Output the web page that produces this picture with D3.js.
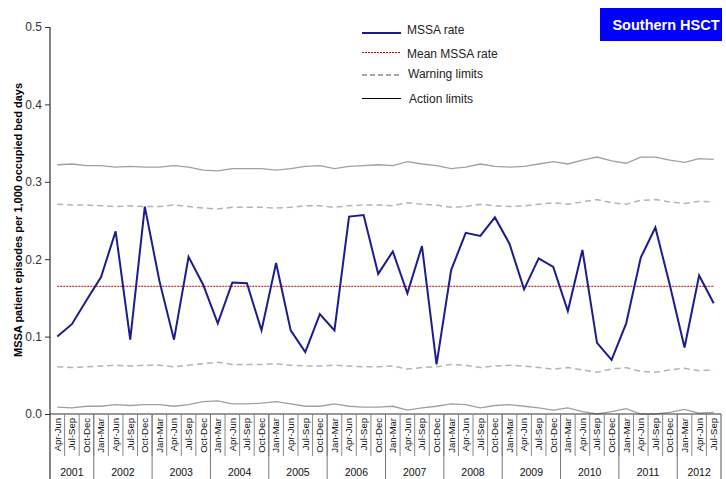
<!DOCTYPE html>
<html><head><meta charset="utf-8">
<script src="https://cdn.jsdelivr.net/npm/d3@7"></script>
<style>body{margin:0;background:#fff}svg{display:block;font-family:Arial,"Liberation Sans",sans-serif}</style>
</head><body><svg id="c" width="726" height="479"></svg>
<script>
const yearLabels = ["2001","2002","2003","2004","2005","2006","2007","2008","2009","2010","2011","2012"];
const quartersPerYear = [3,4,4,4,4,4,4,4,4,4,4,3];
const quarterLabels = ["Apr-Jun","Jul-Sep","Oct-Dec",
 "Jan-Mar","Apr-Jun","Jul-Sep","Oct-Dec","Jan-Mar","Apr-Jun","Jul-Sep","Oct-Dec",
 "Jan-Mar","Apr-Jun","Jul-Sep","Oct-Dec","Jan-Mar","Apr-Jun","Jul-Sep","Oct-Dec",
 "Jan-Mar","Apr-Jun","Jul-Sep","Oct-Dec","Jan-Mar","Apr-Jun","Jul-Sep","Oct-Dec",
 "Jan-Mar","Apr-Jun","Jul-Sep","Oct-Dec","Jan-Mar","Apr-Jun","Jul-Sep","Oct-Dec",
 "Jan-Mar","Apr-Jun","Jul-Sep","Oct-Dec","Jan-Mar","Apr-Jun","Jul-Sep","Oct-Dec",
 "Jan-Mar","Apr-Jun","Jul-Sep"];
const mssaRate = [0.100,0.116,0.147,0.177,0.236,0.096,0.268,0.172,0.096,0.203,0.167,0.117,0.170,0.169,0.108,0.195,0.108,0.080,0.129,0.108,0.255,0.257,0.181,0.210,0.156,0.217,0.064,0.186,0.234,0.230,0.254,0.220,0.161,0.201,0.190,0.133,0.212,0.092,0.070,0.117,0.202,0.241,0.166,0.086,0.179,0.143];
const meanRate = 0.165;
const upperAction = [0.322,0.323,0.321,0.321,0.319,0.320,0.319,0.319,0.321,0.319,0.315,0.314,0.317,0.317,0.317,0.315,0.317,0.320,0.321,0.317,0.320,0.321,0.322,0.321,0.326,0.323,0.321,0.317,0.319,0.323,0.320,0.319,0.320,0.323,0.326,0.323,0.328,0.332,0.327,0.324,0.332,0.332,0.328,0.325,0.330,0.329];
const upperWarning = [0.271,0.270,0.270,0.269,0.268,0.269,0.268,0.268,0.270,0.268,0.266,0.265,0.267,0.267,0.267,0.266,0.267,0.269,0.269,0.267,0.269,0.270,0.270,0.269,0.273,0.271,0.270,0.267,0.268,0.271,0.269,0.268,0.269,0.271,0.273,0.271,0.274,0.277,0.273,0.271,0.276,0.277,0.274,0.272,0.275,0.274];
const lowerWarning = [0.061,0.060,0.061,0.062,0.063,0.062,0.063,0.063,0.061,0.063,0.065,0.067,0.064,0.064,0.064,0.065,0.063,0.062,0.062,0.063,0.062,0.061,0.061,0.062,0.058,0.060,0.061,0.064,0.063,0.060,0.062,0.063,0.062,0.060,0.058,0.060,0.057,0.054,0.058,0.060,0.055,0.054,0.057,0.059,0.056,0.057];
const lowerAction = [0.009,0.008,0.010,0.010,0.012,0.011,0.012,0.012,0.010,0.012,0.016,0.017,0.013,0.013,0.014,0.016,0.013,0.010,0.010,0.013,0.010,0.009,0.009,0.010,0.005,0.008,0.010,0.013,0.012,0.008,0.011,0.012,0.010,0.008,0.005,0.008,0.003,0.000,0.003,0.007,0.000,0.000,0.002,0.006,0.001,0.002];
const yTicks = [0.0,0.1,0.2,0.3,0.4,0.5];

const svg = d3.select("#c");
const idx = d3.range(quarterLabels.length);
const x = d3.scaleBand().domain(idx).range([50, 721]).padding(0);
const y = d3.scaleLinear().domain([0, 0.5]).range([414, 27]);
const cx = i => x(i) + x.bandwidth()/2;

// limit lines
const lineGen = d3.line().x((d,i)=>cx(i)).y(d=>y(d));
svg.append("path").datum(upperAction).attr("d", lineGen).attr("fill","none").attr("stroke","#a0a0a0").attr("stroke-width",1.3);
svg.append("path").datum(lowerAction).attr("d", lineGen).attr("fill","none").attr("stroke","#a0a0a0").attr("stroke-width",1.3);
svg.append("path").datum(upperWarning).attr("d", lineGen).attr("fill","none").attr("stroke","#b4b4b4").attr("stroke-width",1.5).attr("stroke-dasharray","6,4");
svg.append("path").datum(lowerWarning).attr("d", lineGen).attr("fill","none").attr("stroke","#b4b4b4").attr("stroke-width",1.5).attr("stroke-dasharray","6,4");
// mean
svg.append("line").attr("x1",cx(0)).attr("x2",cx(idx.length-1)).attr("y1",y(meanRate)).attr("y2",y(meanRate))
  .attr("stroke","#c00000").attr("stroke-width",1).attr("stroke-dasharray","2,1");
// data
svg.append("path").datum(mssaRate).attr("d", lineGen).attr("fill","none").attr("stroke","#1c1c8e").attr("stroke-width",2).attr("stroke-linejoin","miter");

// y axis
const yAxis = svg.append("g").attr("transform","translate(50,0)")
  .call(d3.axisLeft(y).tickValues(yTicks).tickFormat(d3.format(".1f")).tickSize(5).tickPadding(3));
yAxis.select(".domain").remove();
yAxis.selectAll("line").attr("stroke","#333");
yAxis.selectAll("text").attr("font-size",12).attr("fill","#333").attr("font-family","Arial, 'Liberation Sans', sans-serif");
svg.append("line").attr("x1",50).attr("x2",50).attr("y1",y(0.5)).attr("y2",479).attr("stroke","#333").attr("stroke-width",1.2);

// x axis
svg.append("line").attr("x1",50).attr("x2",721).attr("y1",414).attr("y2",414).attr("stroke","#333").attr("stroke-width",1.2);
const xg = svg.append("g");
idx.forEach(i=>{
  if(i>0) xg.append("line").attr("x1",x(i)).attr("x2",x(i)).attr("y1",414).attr("y2",456).attr("stroke","#888");
  xg.append("text").attr("transform",`translate(${cx(i)+3.4},418) rotate(-90)`)
    .attr("text-anchor","end").attr("font-size",9.5).attr("fill","#111").text(quarterLabels[i]);
});
xg.append("line").attr("x1",721).attr("x2",721).attr("y1",414).attr("y2",479).attr("stroke","#555");
let start = 0;
yearLabels.forEach((yr,k)=>{
  const n = quartersPerYear[k];
  const x0 = x(start), x1 = start+n < idx.length ? x(start+n) : 721;
  if(start>0) xg.append("line").attr("x1",x0).attr("x2",x0).attr("y1",414).attr("y2",479).attr("stroke","#777");
  xg.append("text").attr("x",(x0+x1)/2).attr("y",476).attr("text-anchor","middle").attr("font-size",10.5).attr("fill","#111").text(yr);
  start += n;
});

// y title
svg.append("text").attr("transform","translate(22,220) rotate(-90)").attr("text-anchor","middle")
  .attr("font-size",11).attr("font-weight","bold").attr("fill","#000").text("MSSA patient episodes per 1,000 occupied bed days");

// legend
const lg = svg.append("g");
const legendItems = [
  {label:"MSSA rate", y:33, ty:34, tx:407, stroke:"#1c1c8e", w:2, dash:null},
  {label:"Mean MSSA rate", y:52.5, ty:58, tx:407, stroke:"#c00000", w:1, dash:"2,1"},
  {label:"Warning limits", y:75, ty:78, tx:408, stroke:"#888", w:1.5, dash:"5,3"},
  {label:"Action limits", y:98.5, ty:103, tx:409, stroke:"#000", w:1, dash:null}
];
legendItems.forEach(it=>{
  const l = lg.append("line").attr("x1",362).attr("x2",401).attr("y1",it.y).attr("y2",it.y).attr("stroke",it.stroke).attr("stroke-width",it.w);
  if(it.dash) l.attr("stroke-dasharray",it.dash);
  lg.append("text").attr("x",it.tx).attr("y",it.ty).attr("font-size",12).attr("fill","#222").text(it.label);
});

// badge
svg.append("rect").attr("x",600).attr("y",8).attr("width",122).attr("height",33).attr("fill","#0000ff");
svg.append("text").attr("x",666).attr("y",30).attr("text-anchor","middle").attr("font-size",14.5).attr("font-weight","bold").attr("fill","#fff").text("Southern HSCT");
</script></body></html>
